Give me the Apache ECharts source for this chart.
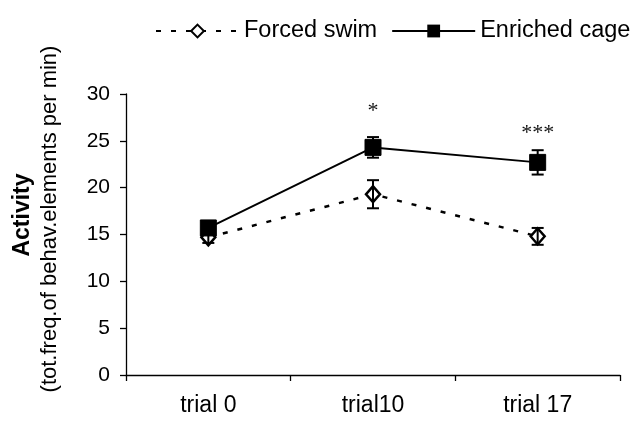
<!DOCTYPE html>
<html>
<head>
<meta charset="utf-8">
<script src="https://cdn.jsdelivr.net/npm/echarts@6/dist/echarts.min.js"></script>
<style>
html, body { margin: 0; padding: 0; background: #fff; }
#main { width: 634px; height: 421px; }
</style>
</head>
<body>
<div id="main"></div>
<script>
// trials on the x axis
var trials = ['trial 0', 'trial10', 'trial 17'];
// means and standard errors
var forcedSwim = [14.7, 19.3, 14.8];
var forcedSwimErr = [0.6, 1.5, 0.9];
var enrichedCage = [15.7, 24.3, 22.7];
var enrichedCageErr = [0.5, 1.1, 1.3];
// significance marks and the level they sit at
var signif = ['', '*', '***'];
var signifLevel = [0, 28.5, 26.1];
var yTicks = [0, 5, 10, 15, 20, 25, 30];

var FONT = 'Liberation Sans, Arial, sans-serif';

function errorRows(values, errs, marks, levels) {
    var rows = [];
    for (var i = 0; i < values.length; i++) {
        rows.push([i, values[i] - errs[i], values[i] + errs[i],
            marks ? marks[i] : '', levels ? levels[i] : 0]);
    }
    return rows;
}

function renderError(params, api) {
    var lo = api.coord([api.value(0), api.value(1)]);
    var hi = api.coord([api.value(0), api.value(2)]);
    var cap = 6;
    var style = { stroke: '#000', lineWidth: 2 };
    var children = [
        { type: 'line', shape: { x1: lo[0], y1: lo[1], x2: hi[0], y2: hi[1] }, style: style },
        { type: 'line', shape: { x1: lo[0] - cap, y1: lo[1], x2: lo[0] + cap, y2: lo[1] }, style: style },
        { type: 'line', shape: { x1: hi[0] - cap, y1: hi[1], x2: hi[0] + cap, y2: hi[1] }, style: style }
    ];
    var mark = api.value(3);
    if (mark) {
        var at = api.coord([api.value(0), api.value(4)]);
        // asterisk glyph sits high in its box, push the box down a bit
        children.push({
            type: 'text',
            style: {
                text: mark, x: at[0], y: at[1] + 14,
                align: 'center', verticalAlign: 'bottom',
                font: '22px "Liberation Serif", serif', fill: '#111'
            }
        });
    }
    return { type: 'group', children: children };
}

var myChart = echarts.init(document.getElementById('main'));
myChart.setOption({
    animation: false,
    backgroundColor: '#fff',
    textStyle: { fontFamily: FONT, color: '#000' },
    legend: {
        left: 155,
        top: 19,
        width: 479,
        padding: 0,
        itemWidth: 83,
        itemHeight: 16,
        itemGap: 14,
        textStyle: { fontSize: 23.5, color: '#000', fontFamily: FONT },
        data: ['Forced swim', 'Enriched cage']
    },
    grid: { left: 126, right: 14, top: 94, bottom: 46, outerBoundsMode: 'none' },
    graphic: [
        {
            type: 'text', x: 23, y: 215, rotation: Math.PI / 2,
            style: { text: 'Activity', font: 'bold 23px ' + FONT, fill: '#000', align: 'center', verticalAlign: 'middle' }
        },
        {
            type: 'text', x: 50, y: 219, rotation: Math.PI / 2,
            style: { text: '(tot.freq.of behav.elements per min)', font: '22px ' + FONT, fill: '#000', align: 'center', verticalAlign: 'middle' }
        }
    ],
    xAxis: {
        type: 'category',
        data: trials,
        boundaryGap: true,
        axisLine: { lineStyle: { color: '#000', width: 1.3 } },
        axisTick: { show: true, interval: 0, length: 6, lineStyle: { color: '#000', width: 1.3 } },
        axisLabel: { fontSize: 23, color: '#000', margin: 19, fontFamily: FONT }
    },
    yAxis: {
        type: 'value',
        min: yTicks[0],
        max: yTicks[yTicks.length - 1],
        interval: 5,
        splitLine: { show: false },
        axisLine: { show: true, lineStyle: { color: '#000', width: 1.3 } },
        axisTick: { show: true, length: 6, lineStyle: { color: '#000', width: 1.3 } },
        axisLabel: { fontSize: 21, color: '#000', margin: 16, fontFamily: FONT }
    },
    series: [
        {
            name: 'Forced swim',
            type: 'line',
            data: forcedSwim,
            symbol: 'diamond',
            symbolSize: [14, 16],
            lineStyle: { color: '#000', width: 2.5, type: [5, 10] },
            itemStyle: { color: '#fff', borderColor: '#000', borderWidth: 2.5 },
            z: 3
        },
        {
            name: 'Enriched cage',
            type: 'line',
            data: enrichedCage,
            symbol: 'rect',
            symbolSize: 16,
            lineStyle: { color: '#000', width: 2 },
            itemStyle: { color: '#000', borderColor: '#000' },
            z: 3
        },
        {
            type: 'custom',
            data: errorRows(forcedSwim, forcedSwimErr),
            renderItem: renderError,
            encode: { x: 0, y: [1, 2] },
            z: 4
        },
        {
            type: 'custom',
            data: errorRows(enrichedCage, enrichedCageErr, signif, signifLevel),
            renderItem: renderError,
            encode: { x: 0, y: [1, 2] },
            z: 4
        }
    ]
});
</script>
</body>
</html>
